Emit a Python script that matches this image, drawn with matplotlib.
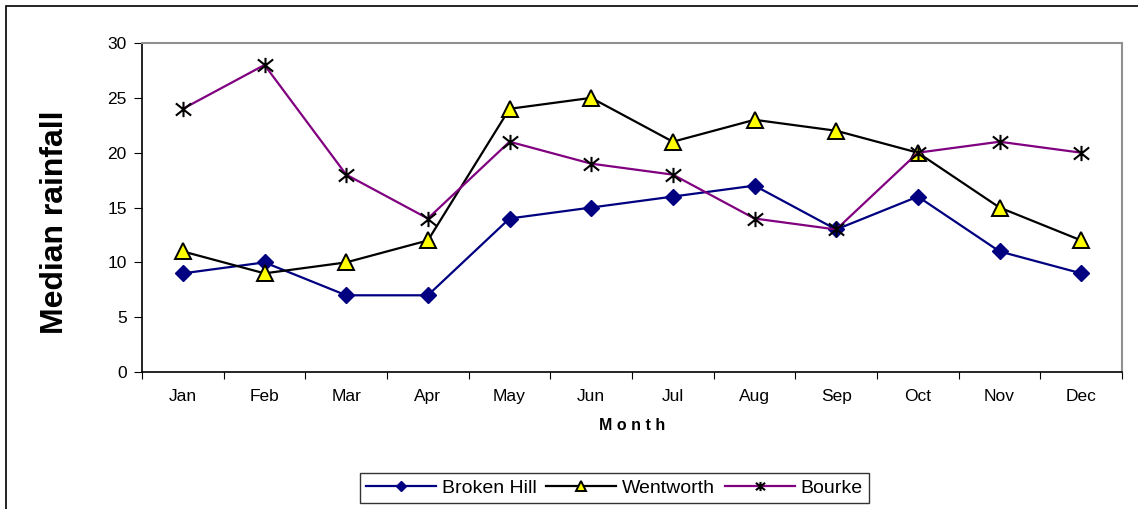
import matplotlib
matplotlib.use("Agg")
from matplotlib import pyplot as plt
from matplotlib.patches import Rectangle
from matplotlib.path import Path

plt.rcParams['font.family'] = ['Liberation Sans', 'DejaVu Sans']

months = ['Jan', 'Feb', 'Mar', 'Apr', 'May', 'Jun', 'Jul', 'Aug', 'Sep', 'Oct', 'Nov', 'Dec']
broken_hill = [9, 10, 7, 7, 14, 15, 16, 17, 13, 16, 11, 9]
wentworth = [11, 9, 10, 12, 24, 25, 21, 23, 22, 20, 15, 12]
bourke = [24, 28, 18, 14, 21, 19, 18, 14, 13, 20, 21, 20]

# excel style star: an X with a vertical stroke
star = Path([(0, -1), (0, 1), (-1, -0.8), (1, 0.8), (-1, 0.8), (1, -0.8)],
            [Path.MOVETO, Path.LINETO, Path.MOVETO, Path.LINETO, Path.MOVETO, Path.LINETO])

fig = plt.figure(figsize=(11.38, 5.09), dpi=100)
ax = fig.add_axes([0.1248, 0.269, 0.8612, 0.6465])

x = list(range(len(months)))
ax.plot(x, broken_hill, color='#000080', lw=1.6, marker='D', ms=8,
        mfc='#000080', mec='#000080', label='Broken Hill')
ax.plot(x, wentworth, color='black', lw=1.6, marker='^', ms=11,
        mfc='#ffff00', mec='black', mew=1.4, label='Wentworth')
ax.plot(x, bourke, color='#800080', lw=1.6, marker=star, ms=11,
        mfc='none', mec='black', mew=1.5, label='Bourke')

ax.set_xlim(-0.5, 11.5)
ax.set_ylim(0, 30)
ax.set_yticks(range(0, 31, 5))
ax.tick_params(axis='y', direction='out', length=6, labelsize=12.5, pad=5)

# category labels at centres, tick marks between categories
ax.set_xticks([i - 0.5 for i in range(13)])
ax.set_xticklabels([])
ax.set_xticks(x, minor=True)
ax.set_xticklabels(months, minor=True, fontsize=12.5)
ax.tick_params(axis='x', which='major', direction='out', length=5)
ax.tick_params(axis='x', which='minor', length=0, pad=12)

for s in ['top', 'right']:
    ax.spines[s].set_color('#909090')
    ax.spines[s].set_linewidth(1.5)
for s in ['left', 'bottom']:
    ax.spines[s].set_color('black')
    ax.spines[s].set_linewidth(1.2)

ax.set_ylabel('Median rainfall', fontsize=23, fontweight='bold')
ax.yaxis.set_label_coords(-0.073, 0.455)
ax.set_xlabel('M o n t h', fontsize=11.5, fontweight='bold', labelpad=10)

leg = fig.legend(loc='center', bbox_to_anchor=(0.54, 0.041), ncol=3,
                 fontsize=14, frameon=True, fancybox=False, edgecolor='black',
                 handlelength=3.6, columnspacing=0.5, handletextpad=0.3,
                 borderpad=0.3, markerscale=0.6)
leg.get_frame().set_linewidth(1.0)

# outer chart border
fig.add_artist(Rectangle((6 / 1138, -0.1), 1.2, 1 - 6 / 509 + 0.1,
                         transform=fig.transFigure, fill=False,
                         edgecolor='black', lw=1.2))

fig.savefig('out.png', dpi=100)
